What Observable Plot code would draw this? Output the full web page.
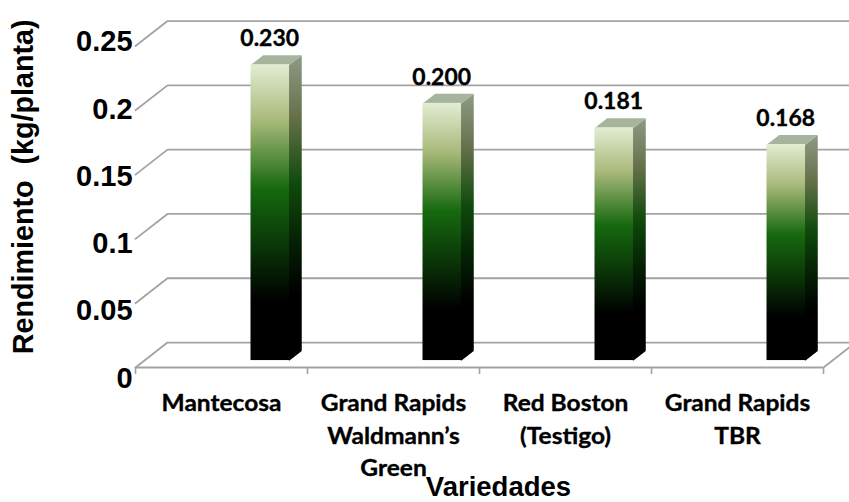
<!DOCTYPE html>
<html>
<head>
<meta charset="utf-8">
<script src="https://cdn.jsdelivr.net/npm/d3@7"></script>
<script src="https://cdn.jsdelivr.net/npm/@observablehq/plot@0.6"></script>
<style>
  html, body { margin: 0; padding: 0; background: #fff; overflow: hidden; }
  svg { display: block; }
</style>
</head>
<body>
<div id="chart"></div>
<script>
// Yield per lettuce variety
const categories = ["Mantecosa", "Grand Rapids\nWaldmann’s\nGreen", "Red Boston\n(Testigo)", "Grand Rapids\nTBR"];
const yields = [0.230, 0.200, 0.181, 0.168];
const valueLabels = ["0.230", "0.200", "0.181", "0.168"];
const yTicks = [0, 0.05, 0.1, 0.15, 0.2, 0.25];
const yTickLabels = ["0", "0.05", "0.1", "0.15", "0.2", "0.25"];
const yTitle = "Rendimiento  (kg/planta)";
const xTitle = "Variedades";

// Pseudo-3D box geometry, in data units
const wallDx = 0.186, wallDy = 0.0194;   // floor depth
const barLeft = 0.6715, barWidth = 0.224; // offset within a category band
const barDx = 0.071, barDy = 0.0074;     // bar depth
const barBase = 0.0054;                  // bars stand slightly behind the front edge
const seam = 0.004;                      // side face tucks under the front face
const xEnd = 4.151;

const ink = "#000";
const gridColor = "#a3a3a3";

const grid = yTicks.flatMap((t, i) => [
  {k: i, x: 0, y: t},
  {k: i, x: wallDx, y: t + wallDy},
  {k: i, x: xEnd, y: t + wallDy}
]);
const rightEdge = [{x: 4, y: 0}, {x: xEnd, y: wallDy * (xEnd - 4) / wallDx}];

const bars = yields.map((v, i) => ({
  i,
  x1: i + barLeft,
  x2: i + barLeft + barWidth,
  y1: barBase,
  y2: v + barBase,
  value: valueLabels[i]
}));
const sides = bars.flatMap(b => [
  {i: b.i, x: b.x2 - seam, y: b.y1},
  {i: b.i, x: b.x2, y: b.y1},
  {i: b.i, x: b.x2 + barDx, y: b.y1 + barDy},
  {i: b.i, x: b.x2 + barDx, y: b.y2 + barDy},
  {i: b.i, x: b.x2, y: b.y2},
  {i: b.i, x: b.x2 - seam, y: b.y2}
]);
const tops = bars.flatMap(b => [
  {i: b.i, x: b.x1, y: b.y2},
  {i: b.i, x: b.x2, y: b.y2},
  {i: b.i, x: b.x2 + barDx, y: b.y2 + barDy},
  {i: b.i, x: b.x1 + barDx, y: b.y2 + barDy}
]);

const tickFont = {fontFamily: "Liberation Sans", fontWeight: 700, fill: ink};
const catFont = {fontFamily: "Lato", fontWeight: 700, fill: ink, stroke: ink, strokeWidth: 0.35};

const chart = Plot.plot({
  width: 849,
  height: 502,
  marginLeft: 0, marginRight: 0, marginTop: 0, marginBottom: 0,
  x: {domain: [0, xEnd], range: [135, 849], axis: null},
  y: {domain: [0, 0.25], range: [367, 45.5], axis: null},
  marks: [
    Plot.line(grid, {x: "x", y: "y", z: "k", stroke: gridColor, strokeWidth: 1.8, curve: "linear"}),
    Plot.line(rightEdge, {x: "x", y: "y", stroke: gridColor, strokeWidth: 1.8}),
    Plot.ruleY([0], {x1: 0, x2: 4, stroke: gridColor, strokeWidth: 2.2}),
    Plot.ruleX([0, 1, 2, 3, 4], {y1: 0, y2: -0.0055, stroke: gridColor, strokeWidth: 1.6}),
    Plot.line(sides, {x: "x", y: "y", z: "i", fill: "url(#barSide)", stroke: "none"}),
    Plot.line(tops, {x: "x", y: "y", z: "i", fill: "#a6b49d", stroke: "none"}),
    Plot.rect(bars, {x1: "x1", x2: "x2", y1: "y1", y2: "y2", fill: "url(#barFront)"}),
    Plot.text(bars, {
      x: d => d.i + 0.78, y: "y2", text: "value", dy: -26,
      fontSize: 22.5, className: "wide-value", ...catFont
    }),
    Plot.text(yTicks, {
      x: () => -0.017, y: t => t * 1.0468 - 0.00855,
      text: (t, i) => yTickLabels[i], textAnchor: "end", fontSize: 29, ...tickFont
    }),
    Plot.text(categories, {
      x: (c, i) => i + 0.5, y: () => -0.0163, text: d => d,
      lineAnchor: "top", lineHeight: 1.41, fontSize: 23, className: "wide-cat", ...catFont
    }),
    Plot.text([xTitle], {x: () => 2.11, y: () => -0.0965, dy: -4, text: d => d, fontSize: 27.5, ...tickFont}),
    Plot.text([yTitle], {x: () => -0.65, y: () => 0.1405, text: d => d, rotate: -90, fontSize: 28.7, ...tickFont})
  ]
});

// Vertical fades shared by the bar faces
const defs = d3.select(chart).append("defs");
const addGradient = (id, stops) => {
  const g = defs.append("linearGradient").attr("id", id).attr("x1", 0).attr("y1", 0).attr("x2", 0).attr("y2", 1);
  stops.forEach(([o, c]) => g.append("stop").attr("offset", o).attr("stop-color", c));
};
addGradient("barFront", [[0, "#e2edd3"], [0.19, "#a9b97a"], [0.42, "#16690f"], [0.6, "#0b3a08"], [0.8, "#000"], [1, "#000"]]);
addGradient("barSide", [[0, "#8e9b85"], [0.2, "#66714a"], [0.42, "#0f4a0c"], [0.6, "#052305"], [0.78, "#000"], [1, "#000"]]);

document.getElementById("chart").append(chart);

// Widen the condensed label lettering
const widen = (selector, factor) => d3.select(chart).selectAll(selector).each(function () {
  this.setAttribute("textLength", this.getComputedTextLength() * factor);
  this.setAttribute("lengthAdjust", "spacingAndGlyphs");
});
widen(".wide-value text", 1.02);
widen(".wide-cat text:not(:has(tspan)), .wide-cat tspan", 1.065);
</script>
</body>
</html>
